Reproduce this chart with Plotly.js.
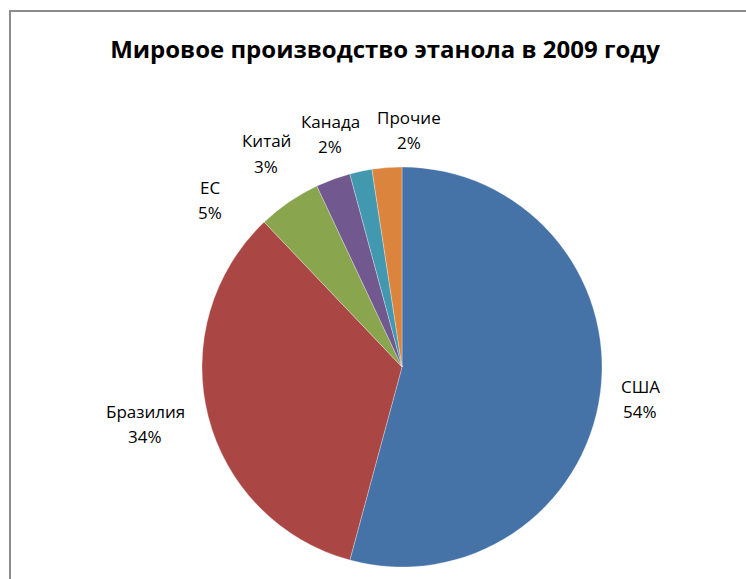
<!DOCTYPE html>
<html>
<head>
<meta charset="utf-8">
<script src="https://cdn.plot.ly/plotly-3.0.1.min.js"></script>
<style>
html,body{margin:0;padding:0;background:#fff;}
#wrap{position:relative;width:746px;height:579px;overflow:hidden;}
#chart{position:absolute;left:0;top:0;width:746px;height:579px;}
#frame{position:absolute;left:9px;top:10px;width:800px;height:700px;border-left:2px solid #8c8c8c;border-top:2px solid #8c8c8c;pointer-events:none;}
</style>
</head>
<body>
<div id="wrap"><div id="chart"></div><div id="frame"></div></div>
<script>
const categories = ["США", "Бразилия", "ЕС", "Китай", "Канада", "Прочие"];
const shares = [54.2, 33.7, 5.1, 2.8, 1.8, 2.4];
const colors = ["#4572A7", "#AA4643", "#89A54E", "#71588F", "#4198AF", "#DB843D"];
const titleText = "Мировое производство этанола в 2009 году";

const font = "Open Sans, Noto Sans, sans-serif";
const W = 746, H = 579;
const M = {l: 202, r: 144, t: 167, b: 12};
const pw = W - M.l - M.r, ph = H - M.t - M.b;

// label placement (pixel centres of the name line and the percent line)
const labelPos = [
  {x: 640, y1: 386, y2: 411},
  {x: 145, y1: 411, y2: 436},
  {x: 210, y1: 187, y2: 212},
  {x: 266, y1: 140, y2: 166},
  {x: 330, y1: 121, y2: 146},
  {x: 409, y1: 117, y2: 142}
];

const total = shares.reduce((a, b) => a + b, 0);
const annotations = [];
categories.forEach((c, i) => {
  const p = labelPos[i];
  const pct = Math.round(shares[i] / total * 100) + "%";
  [[c, p.y1], [pct, p.y2]].forEach(([t, y]) => {
    annotations.push({
      text: t, showarrow: false, xref: "paper", yref: "paper",
      x: (p.x - M.l) / pw, y: 1 - (y - M.t) / ph,
      xanchor: "center", yanchor: "middle",
      font: {family: font, size: 17, color: "#000"}
    });
  });
});

Plotly.newPlot("chart", [{
  type: "pie",
  labels: categories,
  values: shares,
  sort: false,
  direction: "clockwise",
  rotation: 0,
  textinfo: "none",
  marker: {colors: colors, line: {color: "rgba(255,255,255,0.6)", width: 0.5}},
  showlegend: false,
  hoverinfo: "none"
}], {
  width: W, height: H,
  margin: {l: M.l, r: M.r, t: M.t, b: M.b, pad: 0},
  paper_bgcolor: "#fff",
  title: {text: "<b>" + titleText + "</b>", x: 385 / W, xanchor: "center", y: 1 - 50 / H, yanchor: "middle", xref: "container", yref: "container",
          font: {family: font, size: 24, color: "#000"}},
  annotations: annotations,
  showlegend: false
}, {staticPlot: true});
</script>
</body>
</html>
